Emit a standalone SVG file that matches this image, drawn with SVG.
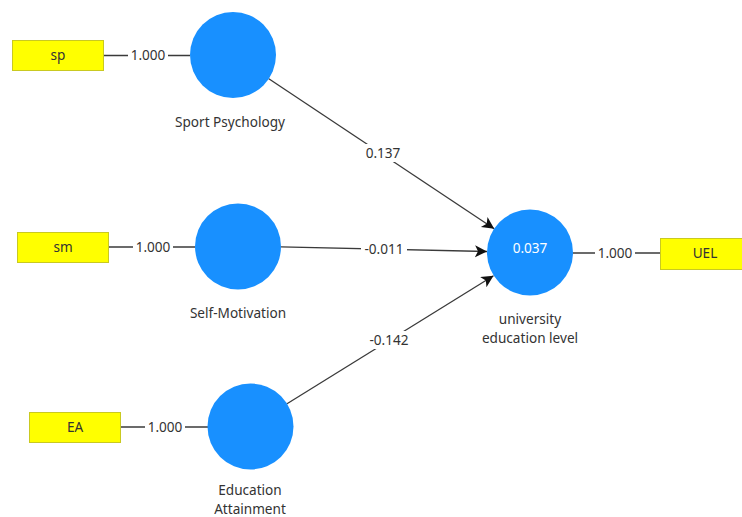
<svg xmlns="http://www.w3.org/2000/svg" width="742" height="517" viewBox="0 0 742 517">
<style>
.bg{fill:#ffffff}
.lv{fill:#1890ff}
.ind{fill:#ffff00;stroke:#c9c921;stroke-width:1}
.t{font-family:"Noto Sans","Open Sans","DejaVu Sans",sans-serif;font-size:13.6px;fill:#333333;text-anchor:middle}
.ln{stroke:#3a3a3a;stroke-width:1.3;fill:none}
.lb{fill:#ffffff}
</style>
<defs>
<marker id="arr" markerUnits="userSpaceOnUse" markerWidth="14" markerHeight="14" refX="12" refY="6" orient="auto">
<path d="M0,0 L12,6 L0,12 L3,6 Z" fill="#111111"/>
</marker>
</defs>
<rect class="bg" x="0" y="0" width="742" height="517"/>
<g id="connectors">
<line class="ln" x1="104" y1="55.5" x2="190" y2="55.5"/>
<line class="ln" x1="109" y1="247" x2="195" y2="247"/>
<line class="ln" x1="121" y1="427" x2="208" y2="427"/>
<line class="ln" x1="573" y1="253" x2="660" y2="253"/>
<line class="ln" x1="268.8" y1="78.8" x2="494.2" y2="228.7" marker-end="url(#arr)"/>
<line class="ln" x1="281" y1="246.8" x2="487" y2="251.5" marker-end="url(#arr)"/>
<line class="ln" x1="287" y1="403.8" x2="493.5" y2="275.8" marker-end="url(#arr)"/>
<rect class="lb" x="128" y="47" width="40" height="17"/>
<text class="t" x="148" y="60">1.000</text>
<rect class="lb" x="133" y="238" width="40" height="17"/>
<text class="t" x="153" y="251.5">1.000</text>
<rect class="lb" x="145" y="418" width="40" height="17"/>
<text class="t" x="165" y="431.5">1.000</text>
<rect class="lb" x="595" y="244" width="40" height="17"/>
<text class="t" x="615" y="257.5">1.000</text>
<rect class="lb" x="361" y="144" width="44" height="18"/>
<text class="t" x="383" y="158">0.137</text>
<rect class="lb" x="361" y="240" width="46" height="17"/>
<text class="t" x="384" y="253.5">-0.011</text>
<rect class="lb" x="365" y="331" width="48" height="18"/>
<text class="t" x="389" y="345">-0.142</text>
</g>
<g id="sp">
<rect class="ind" x="12.5" y="40.5" width="91" height="30"/>
<text class="t" x="58" y="60">sp</text>
</g>
<g id="sm">
<rect class="ind" x="17.5" y="232.5" width="91" height="30"/>
<text class="t" x="63" y="252">sm</text>
</g>
<g id="ea">
<rect class="ind" x="29.5" y="412.5" width="91" height="30"/>
<text class="t" x="75" y="432">EA</text>
</g>
<g id="uel">
<rect class="ind" x="660.5" y="238.5" width="90" height="31"/>
<text class="t" x="705" y="258">UEL</text>
</g>
<g id="sport-psychology">
<circle class="lv" cx="233" cy="55" r="43"/>
<text class="t" x="230" y="127">Sport Psychology</text>
</g>
<g id="self-motivation">
<circle class="lv" cx="238" cy="246.5" r="43"/>
<text class="t" x="238" y="318">Self-Motivation</text>
</g>
<g id="education-attainment">
<circle class="lv" cx="250.5" cy="426.5" r="43"/>
<text class="t" x="250" y="495">Education</text>
<text class="t" x="250" y="514">Attainment</text>
</g>
<g id="university-education-level">
<circle class="lv" cx="530" cy="252.5" r="43"/>
<text class="t" x="530" y="253" style="fill:#ffffff">0.037</text>
<text class="t" x="530" y="324">university</text>
<text class="t" x="530" y="343">education level</text>
</g>
</svg>
